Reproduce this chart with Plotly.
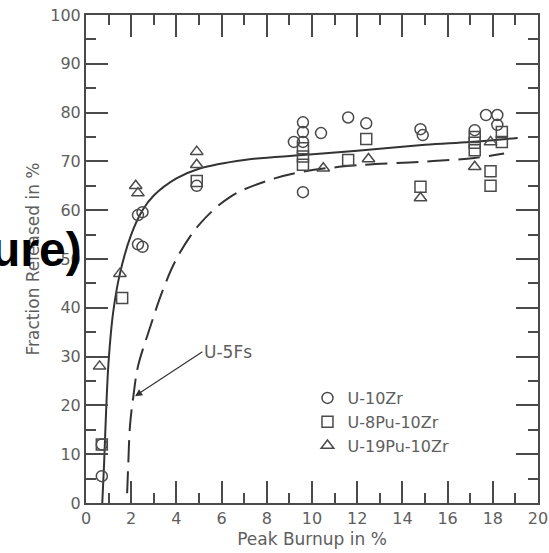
import plotly.graph_objects as go

# ---- data ----
u10zr_x = [0.7, 0.7, 2.3, 2.5, 2.3, 2.5, 4.9, 9.2, 9.6, 9.6, 9.6, 9.6, 10.4, 11.6, 12.4, 14.8, 14.9, 17.2, 17.7, 18.2, 18.2]
u10zr_y = [5.5, 12, 53, 52.5, 59, 59.6, 65, 74, 78, 76, 74, 63.7, 75.8, 79, 77.8, 76.6, 75.4, 76.4, 79.5, 79.5, 77.5]

u8pu_x = [0.7, 1.6, 4.9, 9.6, 9.6, 9.6, 11.6, 12.4, 14.8, 17.2, 17.2, 17.2, 17.9, 17.9, 18.4, 18.4]
u8pu_y = [12, 42, 66, 72.7, 71, 69.3, 70.3, 74.6, 64.8, 75, 73.8, 72.3, 68, 65, 76, 74]

u19pu_x = [0.6, 1.5, 2.2, 2.3, 4.9, 4.9, 10.5, 12.5, 14.8, 17.2, 17.9]
u19pu_y = [28, 47, 65, 63.5, 72, 69.3, 68.6, 70.5, 62.5, 68.9, 74]

fit_x = [0.72, 0.8, 0.9, 1.0, 1.2, 1.5, 2.0, 2.5, 3.0, 4.0, 5.0, 7.0, 9.6, 12.0, 15.0, 17.0, 19.1]
fit_y = [0, 8, 20, 29, 39, 47, 55, 60, 63, 66.5, 68.5, 70.3, 71.3, 72.2, 73.4, 74, 74.8]

u5fs_x = [1.82, 1.87, 1.95, 2.1, 2.3, 2.8, 3.4, 4.0, 5.0, 6.4, 8.0, 9.6, 12.0, 14.8, 17.2, 18.5]
u5fs_y = [2, 8, 16, 22, 28, 35.5, 43.6, 50, 57, 62.8, 66.0, 67.9, 69.2, 69.9, 70.7, 71.6]

x_ticks = [0, 2, 4, 6, 8, 10, 12, 14, 16, 18, 20]
y_ticks = [0, 10, 20, 30, 40, 50, 60, 70, 80, 90, 100]

INK = "#4a4a4a"
TXT = "#5e5e5e"
FONT = "DejaVu Sans"

fig = go.Figure()

fig.add_trace(go.Scatter(x=fit_x, y=fit_y, mode="lines", line=dict(color="#333", width=2, shape="spline"),
                         showlegend=False, hoverinfo="skip"))
fig.add_trace(go.Scatter(x=u5fs_x, y=u5fs_y, mode="lines",
                         line=dict(color="#333", width=2, shape="spline", dash="22px,9px"),
                         showlegend=False, hoverinfo="skip"))

mk = dict(size=11, color=INK, line=dict(color=INK, width=1.5))
fig.add_trace(go.Scatter(x=u10zr_x, y=u10zr_y, mode="markers", name="U-10Zr",
                         marker=dict(symbol="circle-open", **mk)))
fig.add_trace(go.Scatter(x=u8pu_x, y=u8pu_y, mode="markers", name="U-8Pu-10Zr",
                         marker=dict(symbol="square-open", **mk)))
fig.add_trace(go.Scatter(x=u19pu_x, y=u19pu_y, mode="markers", name="U-19Pu-10Zr",
                         marker=dict(symbol="triangle-up-open", **mk)))

axis_common = dict(showline=True, linecolor=INK, linewidth=2, mirror="allticks",
                   ticks="inside", ticklen=22, tickwidth=2, tickcolor=INK,
                   showgrid=False, zeroline=False, automargin=False,
                   tickfont=dict(family=FONT, size=16, color=TXT))

fig.update_xaxes(range=[0, 20], tickvals=x_ticks, ticktext=[str(v) for v in x_ticks],
                 minor=dict(dtick=1, ticklen=10, tickwidth=2, tickcolor=INK, ticks="inside"),
                 title=dict(text="Peak Burnup in %", font=dict(family=FONT, size=17, color=TXT), standoff=6),
                 **axis_common)
fig.update_yaxes(range=[0, 100], tickvals=y_ticks, ticktext=[str(v) for v in y_ticks],
                 minor=dict(dtick=5, ticklen=10, tickwidth=2, tickcolor=INK, ticks="inside"),
                 title=dict(text="Fraction Released in %", font=dict(family=FONT, size=17, color=TXT), standoff=6),
                 **axis_common)

fig.add_annotation(x=2.17, y=21.9, ax=5.15, ay=31.0, axref="x", ayref="y", xref="x", yref="y",
                   text="U-5Fs", xanchor="left", showarrow=True, arrowhead=2, arrowsize=1.2,
                   arrowwidth=1.2, arrowcolor="#333", font=dict(family=FONT, size=17, color=TXT))

fig.add_annotation(xref="paper", yref="paper", x=-0.005, y=0.52, xanchor="right", yanchor="middle",
                   text="<b>ure)</b>", showarrow=False,
                   font=dict(family="Liberation Sans", size=48, color="black"))

fig.update_layout(
    width=549, height=553,
    margin=dict(l=86, r=11, t=15, b=50),
    paper_bgcolor="white", plot_bgcolor="white",
    legend=dict(x=0.49, y=0.25, xanchor="left", yanchor="top", bgcolor="rgba(0,0,0,0)",
                font=dict(family=FONT, size=16, color=TXT), tracegroupgap=0, itemwidth=30),
    showlegend=True,
)

fig.write_html("out.html", config={"displayModeBar": False},
               post_script="document.body.style.margin='0px';document.body.style.overflow='hidden';")
